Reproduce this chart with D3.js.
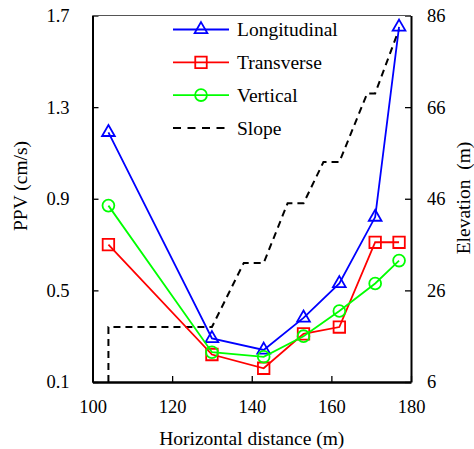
<!DOCTYPE html>
<html>
<head>
<meta charset="utf-8">
<script src="https://cdn.jsdelivr.net/npm/d3@7"></script>
</head>
<body style="margin:0">
<div id="chart"></div>
<script>
(function () {
  // data
  const distance = [104, 130, 143, 153, 162, 171, 177];
  const longitudinal = [1.19, 0.29, 0.24, 0.38, 0.53, 0.82, 1.65];
  const transverse = [0.70, 0.22, 0.16, 0.31, 0.34, 0.71, 0.71];
  const vertical = [0.87, 0.23, 0.21, 0.30, 0.41, 0.53, 0.63];

  const slopeDistance = [104, 104, 130, 138, 143, 149, 153, 158, 162, 169, 171, 177];
  const slopeElevation = [6, 18, 18, 32, 32, 45, 45, 54, 54, 69, 69, 83];

  const xTicks = [100, 120, 140, 160, 180];
  const ppvTicks = [0.1, 0.5, 0.9, 1.3, 1.7];
  const elevTicks = [6, 26, 46, 66, 86];

  const margin = { top: 15.5, right: 63, bottom: 67, left: 92.5 };
  const width = 474 - margin.left - margin.right;
  const height = 449 - margin.top - margin.bottom;

  const root = d3.select("#chart")
    .append("svg")
    .attr("width", 474)
    .attr("height", 449);
  const svg = root.append("g")
    .attr("transform", "translate(" + margin.left + "," + margin.top + ")");

  const xPositionScale = d3.scaleLinear().domain([100, 180]).range([0, width]);
  const yPositionScale = d3.scaleLinear().domain([0.1, 1.7]).range([height, 0]);
  const elevScale = d3.scaleLinear().domain([6, 86]).range([height, 0]);

  // slope (right axis), dashed
  const slopeLine = d3.line()
    .x(d => xPositionScale(d[0]))
    .y(d => elevScale(d[1]));
  svg.append("path")
    .datum(d3.zip(slopeDistance, slopeElevation))
    .attr("d", slopeLine)
    .attr("fill", "none")
    .attr("stroke", "#000")
    .attr("stroke-width", 2)
    .attr("stroke-dasharray", "7 5");

  const series = [
    { name: "Longitudinal", values: longitudinal, color: "#0000ff", symbol: d3.symbolTriangle, size: 70 },
    { name: "Transverse", values: transverse, color: "#ff0000", symbol: d3.symbolSquare, size: 132 },
    { name: "Vertical", values: vertical, color: "#00ff00", symbol: d3.symbolCircle, size: 110 }
  ];

  const line = d3.line()
    .x(d => xPositionScale(d[0]))
    .y(d => yPositionScale(d[1]));

  series.forEach(s => {
    const pts = d3.zip(distance, s.values);
    svg.append("path")
      .datum(pts)
      .attr("d", line)
      .attr("fill", "none")
      .attr("stroke", s.color)
      .attr("stroke-width", 1.8);
    svg.selectAll(null)
      .data(pts)
      .enter().append("path")
      .attr("d", d3.symbol().type(s.symbol).size(s.size))
      .attr("transform", d => "translate(" + xPositionScale(d[0]) + "," + yPositionScale(d[1]) + ")")
      .attr("fill", "none")
      .attr("stroke", s.color)
      .attr("stroke-width", 1.8);
  });

  // axes, ticks pointing inward
  const xAxis = svg.append("g")
    .attr("transform", "translate(0," + height + ")")
    .call(d3.axisBottom(xPositionScale).tickValues(xTicks).tickSizeInner(-6).tickSizeOuter(0).tickPadding(18));
  const yAxis = svg.append("g")
    .call(d3.axisLeft(yPositionScale).tickValues(ppvTicks).tickFormat(d3.format(".1f")).tickSizeInner(-6).tickSizeOuter(0).tickPadding(23));
  const rAxis = svg.append("g")
    .attr("transform", "translate(" + width + ",0)")
    .call(d3.axisRight(elevScale).tickValues(elevTicks).tickSizeInner(-6).tickSizeOuter(0).tickPadding(16));

  [xAxis, yAxis, rAxis].forEach(a => {
    a.selectAll("line").attr("stroke", "#000").attr("stroke-width", 1.3);
    a.select(".domain").attr("stroke", "#000").attr("stroke-width", 2);
  });
  xAxis.select(".domain").attr("stroke-width", 2.5);

  // top edge of the frame
  svg.append("line")
    .attr("x1", 0).attr("x2", width)
    .attr("y1", 0).attr("y2", 0)
    .attr("stroke", "#555")
    .attr("stroke-width", 1);

  // axis titles
  svg.append("text")
    .attr("class", "title")
    .attr("x", width / 2)
    .attr("y", 445 - margin.top)
    .attr("text-anchor", "middle")
    .text("Horizontal distance (m)");

  svg.append("text")
    .attr("class", "title")
    .attr("transform", "translate(" + (27 - margin.left) + "," + (186 - margin.top) + ") rotate(-90)")
    .attr("text-anchor", "middle")
    .text("PPV (cm/s)");

  svg.append("text")
    .attr("class", "title")
    .attr("transform", "translate(" + (470 - margin.left) + "," + (198 - margin.top) + ") rotate(-90)")
    .attr("text-anchor", "middle")
    .text("Elevation\u00a0 (m)");

  // legend
  const legendItems = series.concat([{ name: "Slope", color: "#000", dashed: true }]);
  const legend = svg.append("g")
    .attr("transform", "translate(" + (173 - margin.left) + "," + (29.5 - margin.top) + ")");
  legendItems.forEach((s, i) => {
    const g = legend.append("g").attr("transform", "translate(0," + i * 32.8 + ")");
    g.append("line")
      .attr("x1", 0).attr("x2", s.dashed ? 55 : 56)
      .attr("y1", 0).attr("y2", 0)
      .attr("stroke", s.color)
      .attr("stroke-width", s.dashed ? 2 : 1.8)
      .attr("stroke-dasharray", s.dashed ? "8 6.5" : null);
    if (!s.dashed) {
      g.append("path")
        .attr("d", d3.symbol().type(s.symbol).size(s.size))
        .attr("transform", "translate(28,0)")
        .attr("fill", "none")
        .attr("stroke", s.color)
        .attr("stroke-width", 1.8);
    }
    g.append("text")
      .attr("class", "title")
      .attr("x", 64)
      .attr("y", 0)
      .attr("dy", "0.35em")
      .text(s.name);
  });

  // fonts: set last, on every text, same way as a plain attribute
  root.selectAll("text")
    .attr("font-family", "Liberation Serif")
    .attr("fill", "#000");
  root.selectAll(".tick text").attr("font-size", 18.5);
  root.selectAll("text.title").attr("font-size", 19.5);
  root.selectAll("g").filter(function () { return this.hasAttribute("font-family"); })
    .attr("font-family", "Liberation Serif");
})();
</script>
</body>
</html>
